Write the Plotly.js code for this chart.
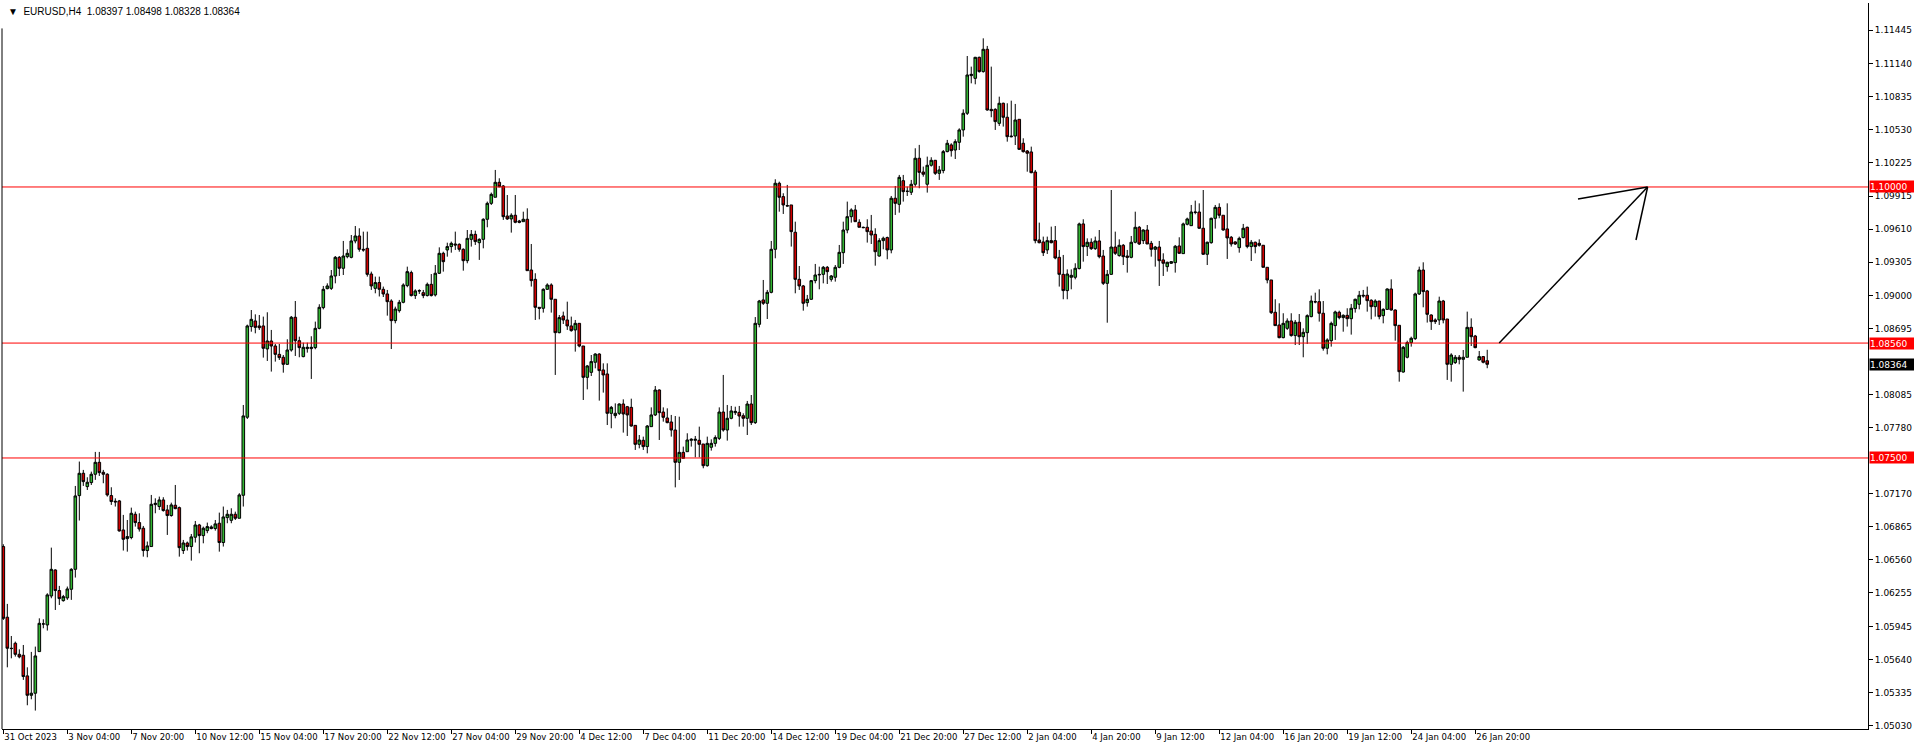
<!DOCTYPE html>
<html><head><meta charset="utf-8">
<script src="https://cdn.plot.ly/plotly-3.0.1.min.js"></script>
<style>html,body{margin:0;padding:0;background:#fff;overflow:hidden}#chart{width:1914px;height:749px}</style>
</head><body><div id="chart"></div>
<script>
const symbol = "EURUSD,H4";
const open = [
1.06683,1.06031,1.05745,1.05791,1.05689,1.05680,1.05490,1.05311,1.05330,1.05714,
1.05969,1.05960,1.06227,1.06467,1.06277,1.06184,1.06209,1.06289,1.06473,1.07153,
1.07359,1.07236,1.07273,1.07350,1.07460,1.07368,1.07350,1.07153,1.07101,1.07104,
1.06836,1.06756,1.06766,1.06981,1.06904,1.06852,1.06646,1.06683,1.07070,1.07052,
1.07113,1.07021,1.06969,1.07064,1.07042,1.06646,1.06716,1.06683,1.06769,1.06882,
1.06784,1.06830,1.06849,1.06849,1.06898,1.06720,1.06950,1.06925,1.06981,1.06944,
1.07156,1.07876,1.08712,1.08764,1.08718,1.08718,1.08506,1.08579,1.08533,1.08456,
1.08429,1.08364,1.08496,1.08798,1.08582,1.08435,1.08509,1.08509,1.08518,1.08696,
1.08887,1.09062,1.09065,1.09179,1.09351,1.09250,1.09357,1.09351,1.09502,1.09548,
1.09425,1.09434,1.09197,1.09065,1.09118,1.09056,1.09013,1.08948,1.08767,1.08859,
1.08936,1.09090,1.09210,1.08998,1.09044,1.09025,1.08998,1.09102,1.09004,1.09204,
1.09388,1.09419,1.09450,1.09474,1.09471,1.09425,1.09320,1.09517,1.09563,1.09486,
1.09517,1.09702,1.09849,1.09905,1.10043,1.10009,1.09732,1.09705,1.09739,1.09686,
1.09680,1.09702,1.09234,1.09148,1.08890,1.08881,1.09056,1.09096,1.08964,1.08656,
1.08810,1.08773,1.08718,1.08681,1.08742,1.08533,1.08244,1.08290,1.08383,1.08459,
1.08312,1.08275,1.07912,1.07891,1.07912,1.07998,1.07973,1.07967,1.07801,1.07626,
1.07663,1.07605,1.07789,1.07897,1.08127,1.07924,1.07869,1.07832,1.07758,1.07460,
1.07552,1.07558,1.07663,1.07663,1.07663,1.07629,1.07429,1.07599,1.07635,1.07681,
1.07924,1.07758,1.07866,1.07918,1.07921,1.07890,1.07866,1.07998,1.07826,1.08733,
1.08958,1.08927,1.09028,1.09425,1.10034,1.09911,1.09828,1.09834,1.09582,1.09148,
1.09087,1.08933,1.08964,1.09136,1.09194,1.09194,1.09259,1.09148,1.09167,1.09259,
1.09394,1.09603,1.09726,1.09788,1.09674,1.09628,1.09628,1.09594,1.09563,1.09363,
1.09505,1.09533,1.09419,1.09896,1.09840,1.10058,1.09960,1.09951,1.10025,1.10265,
1.10138,1.10025,1.10200,1.10246,1.10126,1.10151,1.10326,1.10388,1.10341,1.10412,
1.10526,1.10680,1.11027,1.11002,1.11196,1.11064,1.11270,1.10716,1.10716,1.10587,
1.10772,1.10643,1.10470,1.10470,1.10624,1.10403,1.10332,1.10323,1.10138,1.09511,
1.09493,1.09419,1.09505,1.09505,1.09351,1.09194,1.09044,1.09167,1.09167,1.09247,
1.09659,1.09450,1.09490,1.09431,1.09502,1.09363,1.09111,1.09194,1.09446,1.09367,
1.09462,1.09363,1.09351,1.09490,1.09628,1.09505,1.09603,1.09480,1.09425,1.09446,
1.09327,1.09265,1.09296,1.09302,1.09456,1.09385,1.09656,1.09643,1.09769,1.09769,
1.09619,1.09379,1.09486,1.09711,1.09812,1.09739,1.09613,1.09536,1.09493,1.09440,
1.09533,1.09628,1.09450,1.09490,1.09480,1.09462,1.09259,1.09142,1.08844,1.08727,
1.08610,1.08696,1.08764,1.08629,1.08752,1.08619,1.08656,1.08804,1.08942,1.08942,
1.08835,1.08512,1.08582,1.08721,1.08844,1.08795,1.08816,1.08785,1.08878,1.08918,
1.09001,1.09001,1.08955,1.08896,1.08948,1.08813,1.08871,1.09059,1.08865,1.08724,
1.08293,1.08429,1.08564,1.08601,1.09013,1.09234,1.09041,1.08819,1.08773,1.08773,
1.08948,1.08782,1.08364,1.08380,1.08429,1.08410,1.08429,1.08705,1.08625,1.08404,
1.08435,1.08397];
const high = [
1.06704,1.06154,1.05858,1.05806,1.05735,1.05775,1.05569,1.05711,1.05760,1.06021,
1.06012,1.06252,1.06673,1.06473,1.06320,1.06237,1.06314,1.06483,1.07242,1.07467,
1.07390,1.07322,1.07374,1.07556,1.07556,1.07390,1.07359,1.07230,1.07128,1.07113,
1.06975,1.06928,1.07042,1.07005,1.06990,1.06873,1.06729,1.07159,1.07128,1.07144,
1.07138,1.07067,1.07088,1.07251,1.07052,1.06744,1.06729,1.06799,1.06919,1.06892,
1.06867,1.06904,1.06879,1.06928,1.06996,1.07052,1.07021,1.07036,1.07005,1.07175,
1.07989,1.08730,1.08865,1.08825,1.08819,1.08804,1.08844,1.08681,1.08552,1.08552,
1.08450,1.08595,1.08810,1.08948,1.08619,1.08564,1.08564,1.08623,1.08758,1.08918,
1.09087,1.09111,1.09234,1.09363,1.09363,1.09502,1.09425,1.09557,1.09640,1.09619,
1.09588,1.09588,1.09219,1.09173,1.09173,1.09081,1.09050,1.08964,1.08896,1.08958,
1.09111,1.09265,1.09228,1.09056,1.09056,1.09050,1.09118,1.09197,1.09280,1.09443,
1.09403,1.09486,1.09496,1.09588,1.09480,1.09434,1.09603,1.09603,1.09597,1.09526,
1.09711,1.09865,1.09948,1.10157,1.10080,1.10018,1.09926,1.09757,1.09926,1.09696,
1.09772,1.09803,1.09474,1.09204,1.08890,1.09065,1.09111,1.09111,1.08964,1.08819,
1.08850,1.08942,1.08804,1.08773,1.08742,1.08533,1.08358,1.08450,1.08466,1.08466,
1.08373,1.08373,1.07980,1.08004,1.08004,1.08041,1.07980,1.08047,1.07801,1.07712,
1.07697,1.07804,1.07967,1.08164,1.08133,1.07967,1.07958,1.07897,1.07887,1.07881,
1.07605,1.07728,1.07682,1.07703,1.07789,1.07629,1.07697,1.07672,1.07709,1.07967,
1.08266,1.07989,1.07980,1.07973,1.07980,1.07912,1.08026,1.08081,1.08800,1.08958,
1.09142,1.09050,1.09502,1.10071,1.10049,1.09942,1.10019,1.09834,1.09680,1.09271,
1.09096,1.09004,1.09142,1.09290,1.09265,1.09271,1.09271,1.09188,1.09280,1.09465,
1.09680,1.09865,1.09803,1.09834,1.09702,1.09634,1.09702,1.09742,1.09619,1.09527,
1.09542,1.09542,1.09917,1.10009,1.10111,1.10111,1.10003,1.10065,1.10357,1.10388,
1.10188,1.10280,1.10274,1.10249,1.10194,1.10341,1.10434,1.10403,1.10440,1.10541,
1.10716,1.11208,1.11110,1.11200,1.11202,1.11371,1.11301,1.11110,1.10726,1.10833,
1.10778,1.10772,1.10796,1.10766,1.10624,1.10449,1.10341,1.10372,1.10157,1.09671,
1.09542,1.09542,1.09634,1.09640,1.09419,1.09373,1.09240,1.09240,1.09296,1.09671,
1.09702,1.09526,1.09526,1.09542,1.09603,1.09419,1.09234,1.09972,1.09588,1.09517,
1.09474,1.09419,1.09548,1.09772,1.09640,1.09609,1.09649,1.09502,1.09456,1.09502,
1.09388,1.09311,1.09317,1.09465,1.09536,1.09671,1.09717,1.09834,1.09874,1.09849,
1.09972,1.09496,1.09717,1.09834,1.09849,1.09739,1.09849,1.09548,1.09499,1.09542,
1.09659,1.09634,1.09511,1.09496,1.09517,1.09465,1.09259,1.09142,1.08964,1.08927,
1.08835,1.08788,1.08835,1.08773,1.08828,1.08696,1.08825,1.08998,1.09025,1.09056,
1.08948,1.08604,1.08758,1.08859,1.08859,1.08825,1.08881,1.08921,1.08970,1.09041,
1.09050,1.09081,1.08964,1.08964,1.08948,1.08881,1.09065,1.09148,1.08871,1.08724,
1.08533,1.08582,1.08619,1.09025,1.09265,1.09305,1.09050,1.08825,1.08788,1.08988,
1.08958,1.08782,1.08466,1.08450,1.08450,1.08496,1.08850,1.08788,1.08635,1.08487,
1.08441,1.08498];
const low = [
1.06006,1.05569,1.05652,1.05668,1.05652,1.05453,1.05219,1.05274,1.05170,1.05714,
1.05929,1.05908,1.06206,1.06098,1.06144,1.06175,1.06191,1.06191,1.06397,1.06923,
1.07242,1.07205,1.07251,1.07298,1.07334,1.07267,1.07144,1.07067,1.07052,1.06821,
1.06646,1.06636,1.06750,1.06867,1.06821,1.06590,1.06584,1.06683,1.06990,1.07021,
1.07005,1.06790,1.06959,1.07027,1.06590,1.06615,1.06646,1.06553,1.06720,1.06621,
1.06713,1.06806,1.06842,1.06830,1.06636,1.06683,1.06898,1.06898,1.06928,1.06944,
1.07052,1.07860,1.08665,1.08650,1.08681,1.08426,1.08395,1.08297,1.08389,1.08404,
1.08287,1.08358,1.08481,1.08441,1.08429,1.08429,1.08472,1.08229,1.08503,1.08687,
1.08871,1.09056,1.09050,1.09111,1.09179,1.09188,1.09342,1.09342,1.09480,1.09403,
1.09403,1.09173,1.09050,1.09019,1.08990,1.08985,1.08813,1.08505,1.08742,1.08841,
1.08927,1.09075,1.08990,1.08967,1.09013,1.08974,1.08990,1.08990,1.08990,1.09197,
1.09219,1.09357,1.09394,1.09419,1.09403,1.09228,1.09296,1.09450,1.09465,1.09327,
1.09434,1.09628,1.09834,1.09905,1.09997,1.09696,1.09696,1.09579,1.09665,1.09665,
1.09680,1.09228,1.09081,1.08773,1.08779,1.08841,1.09050,1.08841,1.08266,1.08650,
1.08736,1.08681,1.08665,1.08481,1.08521,1.08035,1.08133,1.08256,1.08327,1.08029,
1.08103,1.07804,1.07774,1.07866,1.07897,1.07734,1.07703,1.07789,1.07574,1.07589,
1.07574,1.07543,1.07789,1.07887,1.07666,1.07835,1.07820,1.07697,1.07229,1.07297,
1.07497,1.07558,1.07605,1.07506,1.07506,1.07405,1.07420,1.07568,1.07605,1.07666,
1.07743,1.07660,1.07857,1.07897,1.07789,1.07789,1.07712,1.07804,1.07814,1.08705,
1.08912,1.08782,1.09019,1.09342,1.09772,1.09751,1.09819,1.09450,1.09019,1.09050,
1.08859,1.08896,1.08958,1.09111,1.09056,1.09111,1.09105,1.09127,1.09127,1.09250,
1.09290,1.09573,1.09671,1.09680,1.09628,1.09619,1.09487,1.09474,1.09274,1.09357,
1.09425,1.09333,1.09388,1.09742,1.09763,1.09865,1.09917,1.09926,1.10003,1.09988,
1.10095,1.09948,1.10188,1.10111,1.10065,1.10126,1.10320,1.10280,1.10258,1.10341,
1.10464,1.10664,1.10956,1.10947,1.11055,1.11055,1.10704,1.10643,1.10526,1.10563,
1.10557,1.10418,1.10458,1.10387,1.10341,1.10317,1.10141,1.10126,1.09480,1.09480,
1.09363,1.09382,1.09480,1.09333,1.09081,1.08964,1.08964,1.09056,1.09148,1.09240,
1.09311,1.09363,1.09419,1.09419,1.09342,1.09096,1.08748,1.09188,1.09373,1.09357,
1.09280,1.09210,1.09342,1.09480,1.09465,1.09474,1.09474,1.09357,1.09265,1.09087,
1.09179,1.09219,1.09290,1.09210,1.09382,1.09382,1.09646,1.09640,1.09748,1.09613,
1.09373,1.09280,1.09477,1.09616,1.09711,1.09597,1.09336,1.09450,1.09465,1.09394,
1.09526,1.09434,1.09317,1.09388,1.09450,1.09259,1.09111,1.08828,1.08718,1.08604,
1.08604,1.08681,1.08619,1.08542,1.08542,1.08429,1.08552,1.08798,1.08927,1.08758,
1.08490,1.08456,1.08527,1.08589,1.08779,1.08665,1.08712,1.08638,1.08841,1.08871,
1.08979,1.08850,1.08779,1.08804,1.08779,1.08742,1.08865,1.08859,1.08582,1.08204,
1.08287,1.08419,1.08527,1.08589,1.09004,1.08890,1.08749,1.08681,1.08736,1.08727,
1.08742,1.08220,1.08204,1.08367,1.08364,1.08112,1.08429,1.08533,1.08512,1.08398,
1.08373,1.08328];
const close = [
1.06021,1.05745,1.05742,1.05689,1.05665,1.05484,1.05311,1.05330,1.05674,1.05975,
1.05969,1.06237,1.06473,1.06277,1.06203,1.06221,1.06292,1.06473,1.07150,1.07359,
1.07282,1.07276,1.07350,1.07460,1.07365,1.07350,1.07159,1.07098,1.07095,1.06827,
1.06750,1.06775,1.06990,1.06904,1.06845,1.06646,1.06689,1.07073,1.07082,1.07113,
1.07015,1.06969,1.07067,1.07033,1.06673,1.06716,1.06683,1.06772,1.06882,1.06784,
1.06852,1.06867,1.06864,1.06892,1.06720,1.06956,1.06981,1.06981,1.06944,1.07159,
1.07888,1.08718,1.08779,1.08705,1.08702,1.08512,1.08579,1.08533,1.08456,1.08426,
1.08364,1.08496,1.08798,1.08582,1.08518,1.08521,1.08521,1.08521,1.08696,1.08890,
1.09056,1.09087,1.09179,1.09351,1.09250,1.09363,1.09388,1.09502,1.09548,1.09425,
1.09419,1.09194,1.09087,1.09118,1.09056,1.09013,1.08942,1.08767,1.08874,1.08936,
1.09096,1.09219,1.08998,1.09041,1.09041,1.08998,1.09102,1.08998,1.09204,1.09388,
1.09311,1.09450,1.09480,1.09465,1.09425,1.09320,1.09526,1.09563,1.09496,1.09517,
1.09702,1.09849,1.09932,1.10043,1.10002,1.09726,1.09705,1.09739,1.09674,1.09674,
1.09702,1.09228,1.09136,1.08890,1.08881,1.09056,1.09096,1.08964,1.08656,1.08795,
1.08773,1.08718,1.08675,1.08742,1.08533,1.08244,1.08349,1.08389,1.08459,1.08306,
1.08266,1.07912,1.07967,1.07912,1.07998,1.07906,1.07897,1.07795,1.07626,1.07666,
1.07605,1.07795,1.07897,1.08127,1.07918,1.07875,1.07826,1.07758,1.07460,1.07552,
1.07497,1.07666,1.07672,1.07672,1.07626,1.07429,1.07635,1.07635,1.07688,1.07924,
1.07758,1.07866,1.07934,1.07930,1.07887,1.07866,1.07998,1.07826,1.08742,1.08948,
1.08927,1.09028,1.09425,1.10034,1.09905,1.09834,1.09825,1.09588,1.09148,1.09087,
1.08927,1.08964,1.09136,1.09188,1.09190,1.09259,1.09219,1.09179,1.09259,1.09397,
1.09603,1.09726,1.09788,1.09680,1.09628,1.09625,1.09588,1.09557,1.09403,1.09505,
1.09527,1.09419,1.09896,1.09849,1.10089,1.09957,1.09960,1.10025,1.10265,1.10135,
1.10117,1.10200,1.10246,1.10126,1.10157,1.10326,1.10403,1.10335,1.10418,1.10526,
1.10680,1.11033,1.11039,1.11196,1.11064,1.11270,1.10710,1.10704,1.10603,1.10772,
1.10643,1.10464,1.10464,1.10618,1.10347,1.10326,1.10311,1.10132,1.09505,1.09486,
1.09394,1.09505,1.09486,1.09345,1.09194,1.09044,1.09197,1.09185,1.09250,1.09659,
1.09450,1.09490,1.09431,1.09502,1.09357,1.09111,1.09194,1.09446,1.09388,1.09462,
1.09357,1.09351,1.09490,1.09628,1.09474,1.09603,1.09474,1.09425,1.09446,1.09320,
1.09296,1.09305,1.09311,1.09453,1.09388,1.09659,1.09705,1.09769,1.09766,1.09619,
1.09379,1.09490,1.09711,1.09812,1.09739,1.09603,1.09530,1.09474,1.09474,1.09526,
1.09619,1.09450,1.09490,1.09450,1.09462,1.09259,1.09142,1.08841,1.08721,1.08610,
1.08742,1.08764,1.08629,1.08752,1.08619,1.08659,1.08813,1.08948,1.08940,1.08835,
1.08512,1.08589,1.08742,1.08847,1.08795,1.08816,1.08785,1.08881,1.08964,1.09001,
1.08995,1.08951,1.08896,1.08948,1.08804,1.08871,1.09059,1.08865,1.08721,1.08296,
1.08521,1.08564,1.08604,1.09013,1.09234,1.09035,1.08825,1.08758,1.08758,1.08948,
1.08773,1.08364,1.08450,1.08429,1.08410,1.08429,1.08705,1.08619,1.08518,1.08435,
1.08383,1.08364];
const timeLabels = ["31 Oct 2023","3 Nov 04:00","7 Nov 20:00","10 Nov 12:00","15 Nov 04:00","17 Nov 20:00",
"22 Nov 12:00","27 Nov 04:00","29 Nov 20:00","4 Dec 12:00","7 Dec 04:00","11 Dec 20:00","14 Dec 12:00",
"19 Dec 04:00","21 Dec 20:00","27 Dec 12:00","2 Jan 04:00","4 Jan 20:00","9 Jan 12:00","12 Jan 04:00",
"16 Jan 20:00","19 Jan 12:00","24 Jan 04:00","26 Jan 20:00"];
const barsPerLabel = 16;
const priceTicks = [1.05030,1.05335,1.05640,1.05945,1.06255,1.06560,1.06865,1.07170,1.07780,1.08085,
1.08695,1.09000,1.09305,1.09610,1.09915,1.10225,1.10530,1.10835,1.11140,1.11445];
const levels = [1.10000, 1.08560, 1.07500];
const arrowStart = [374, 1.08560];
const arrowTip = [411.1, 1.10000];
const arrowWingA = [393.7, 1.09889];
const arrowWingB = [408.2, 1.09511];

const idx = open.map((_, i) => i);
const last = close.length - 1;
const FONT = 'DejaVu Sans, Liberation Sans, sans-serif';

const trace = {
  type: 'candlestick', x: idx, open: open, high: high, low: low, close: close,
  increasing: {line: {color: '#000', width: 1}, fillcolor: '#32B432'},
  decreasing: {line: {color: '#000', width: 1}, fillcolor: '#D00000'},
  whiskerwidth: 0, hoverinfo: 'skip', showlegend: false
};

const shapes = levels.map(v => ({type: 'line', xref: 'paper', x0: 0, x1: 1, yref: 'y', y0: v, y1: v,
  line: {color: '#FF0000', width: 1}}));
[[arrowStart, arrowTip], [arrowWingA, arrowTip], [arrowWingB, arrowTip]].forEach(([a, b]) => {
  shapes.push({type: 'line', xref: 'x', yref: 'y', x0: a[0], y0: a[1], x1: b[0], y1: b[1],
    line: {color: '#000', width: 1.5}});
});
shapes.push({type: 'line', xref: 'paper', yref: 'paper', x0: 0, x1: 0, y0: 0, y1: 0.965,
  line: {color: '#000', width: 1}});

const annotations = levels.map(v => ({
  xref: 'paper', x: 1, xanchor: 'left', xshift: 1, yref: 'y', y: v, yanchor: 'middle',
  text: v.toFixed(5), showarrow: false, bgcolor: '#FF0000', borderpad: 0, width: 44, height: 11,
  align: 'left', font: {family: FONT, size: 9, color: '#fff'}
}));
annotations.push({
  xref: 'paper', x: 1, xanchor: 'left', xshift: 1, yref: 'y', y: close[last], yanchor: 'middle',
  text: close[last].toFixed(5), showarrow: false, bgcolor: '#000', borderpad: 0, width: 44, height: 11,
  align: 'left', font: {family: FONT, size: 9, color: '#fff'}
});
annotations.push({
  xref: 'paper', x: 0, xanchor: 'left', xshift: 4, yref: 'paper', y: 1, yanchor: 'top', yshift: -1,
  text: '\u25BC  ' + symbol + '  ' + [open[last], high[last], low[last], close[last]].map(v => v.toFixed(5)).join(' '),
  showarrow: false, font: {family: 'Liberation Sans, sans-serif', size: 10, color: '#000'}
});

const layout = {
  width: 1914, height: 749, margin: {l: 2, r: 46, t: 3, b: 20, pad: 0},
  paper_bgcolor: '#fff', plot_bgcolor: '#fff', showlegend: false, boxgap: 0.35, boxgroupgap: 0,
  xaxis: {
    range: [-0.33, 466.2], tickmode: 'array',
    tickvals: timeLabels.map((_, i) => i * barsPerLabel), ticktext: timeLabels,
    ticks: 'outside', ticklen: 4, tickwidth: 1, tickcolor: '#000', tickangle: 0,
    showline: true, linecolor: '#000', linewidth: 1, showgrid: false, zeroline: false,
    rangeslider: {visible: false}, ticklabelposition: 'outside right', automargin: false,
    tickfont: {family: FONT, size: 8.5, color: '#000'}, fixedrange: true
  },
  yaxis: {
    side: 'right', range: [1.05000, 1.11697], tickmode: 'array',
    tickvals: priceTicks, ticktext: priceTicks.map(v => v.toFixed(5)),
    ticks: 'outside', ticklen: 4, tickwidth: 1, tickcolor: '#000', automargin: false,
    showline: true, linecolor: '#000', linewidth: 1, showgrid: false, zeroline: false,
    tickfont: {family: FONT, size: 9, color: '#000'}, fixedrange: true
  },
  shapes: shapes, annotations: annotations
};

Plotly.newPlot('chart', [trace], layout, {staticPlot: true, displayModeBar: false});
</script>
</body></html>
